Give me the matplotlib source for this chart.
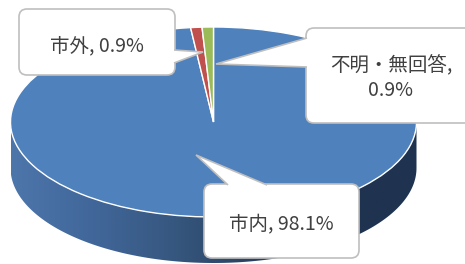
import numpy as np
import matplotlib
matplotlib.use("Agg")
import matplotlib.pyplot as plt
from matplotlib.patches import FancyBboxPatch, Polygon
from matplotlib.transforms import Affine2D
from matplotlib.colors import LinearSegmentedColormap

plt.rcParams['font.family'] = ['Noto Sans CJK JP', 'DejaVu Sans']

## data
labels = ['市内', '市外', '不明・無回答']
shares = [98.1, 0.9, 0.9]
colors = ['#4f81bd', '#c0504d', '#9bbb59']

## layout (pixel units, y up)
W, H = 465, 264
cx, cy = 213.5, 142
a, b = 203, 95
depth = 46
side_cols = ['#4d76ab', '#41679a', '#36577f', '#29415f', '#1f3350', '#1f3350']

fig = plt.figure(figsize=(W / 100, H / 100), dpi=100)
ax = fig.add_axes([0, 0, 1, 1])

# side of the disc, a horizontal gradient
t = np.linspace(np.pi, 2 * np.pi, 200)
lower = np.column_stack([cx + a * np.cos(t), cy - depth + b * np.sin(t)])
upper = np.column_stack([cx + a * np.cos(t[::-1]), cy + b * np.sin(t[::-1])])
side = Polygon(np.vstack([lower, upper]), closed=True, facecolor='none',
               edgecolor='none', transform=ax.transData)
ax.add_patch(side)
grad = np.linspace(0, 1, 256).reshape(1, -1)
cmap = LinearSegmentedColormap.from_list('side', side_cols)
im = ax.imshow(grad, cmap=cmap, aspect='auto',
               extent=(cx - a, cx + a, cy - depth - b, cy), zorder=1)
im.set_clip_path(side)

# top face
wedges, _ = ax.pie(shares, colors=colors, startangle=90, counterclock=False,
                   radius=1, center=(0, 0),
                   wedgeprops=dict(edgecolor='white', linewidth=1.0))
squash = Affine2D().scale(a, b).translate(cx, cy) + ax.transData
for w in wedges:
    w.set_transform(squash)
    w.set_zorder(2)

ax.set_xlim(0, W)
ax.set_ylim(0, H)
ax.set_aspect('auto')
ax.axis('off')


def callout(x0, y0, x1, y1, base1, base2, tip):
    box = FancyBboxPatch((x0, y0), x1 - x0, y1 - y0,
                         boxstyle='round,pad=0,rounding_size=8',
                         facecolor='white', edgecolor='#bfbfbf',
                         linewidth=1.2, zorder=5)
    ax.add_patch(box)
    ax.add_patch(Polygon([base1, tip, base2], closed=True, facecolor='white',
                         edgecolor='none', zorder=6))
    ax.add_patch(Polygon([base1, tip, base2], closed=False, fill=False,
                         edgecolor='#bfbfbf', linewidth=1.2, zorder=7))


txt = dict(fontsize=14, color='#404040', ha='center', va='center', zorder=8)

# 市外
callout(19, 189, 175, 255, (174, 214), (174, 201), (203, 212))
ax.text(97, 218, f'{labels[1]}, {shares[1]}%', **txt)

# 不明・無回答
callout(306, 141, 480, 236, (307, 226), (307, 197), (216, 200))
ax.text(391, 198, f'{labels[2]},', **txt)
ax.text(390, 173, f'{shares[2]}%', **txt)

# 市内
callout(204, 6, 359, 80, (228, 79), (267, 79), (196, 109))
ax.text(281, 39, f'{labels[0]}, {shares[0]}%', **txt)

fig.savefig('out.png', dpi=100)
